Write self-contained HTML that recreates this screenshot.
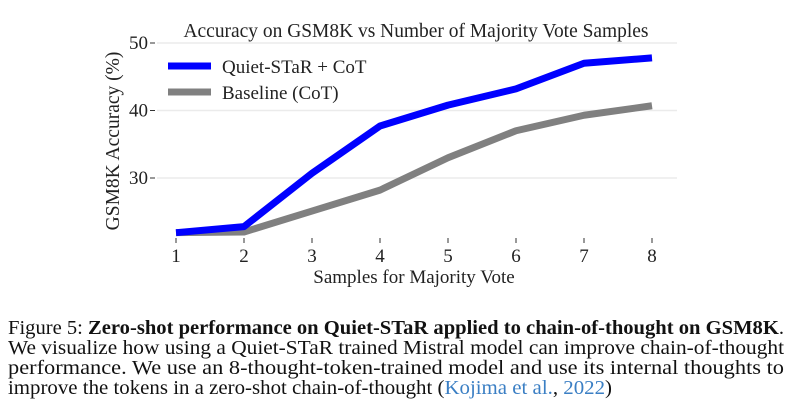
<!DOCTYPE html>
<html><head><meta charset="utf-8"><style>
html,body{margin:0;padding:0;background:#fff;}
svg{display:block;font-family:"Liberation Serif",serif;}
</style></head><body>
<svg id="chart" width="793" height="404" viewBox="0 0 793 404">
<text x="416" y="37" text-anchor="middle" font-size="19.5" fill="#222" textLength="465" lengthAdjust="spacingAndGlyphs">Accuracy on GSM8K vs Number of Majority Vote Samples</text>
<g id="grid"></g><g id="axes"></g><g id="series"></g>
<text transform="translate(119,141) rotate(-90)" text-anchor="middle" font-size="19.5" fill="#222">GSM8K Accuracy (%)</text>
<text x="414" y="283" text-anchor="middle" font-size="19" fill="#222">Samples for Majority Vote</text>
<g>
<line x1="168" y1="66" x2="211" y2="66" stroke="#0000ff" stroke-width="7"/>
<text x="222" y="73" font-size="19" fill="#222">Quiet-STaR + CoT</text>
<line x1="168" y1="92" x2="211" y2="92" stroke="#808080" stroke-width="7"/>
<text x="222" y="99" font-size="19" fill="#222">Baseline (CoT)</text>
</g>
<g font-size="20" fill="#111">
<text x="8" y="334" textLength="776" lengthAdjust="spacingAndGlyphs">Figure 5: <tspan font-weight="bold">Zero-shot performance on Quiet-STaR applied to chain-of-thought on GSM8K</tspan>.</text>
<text x="8" y="354" textLength="776" lengthAdjust="spacingAndGlyphs">We visualize how using a Quiet-STaR trained Mistral model can improve chain-of-thought</text>
<text x="8" y="374" textLength="776" lengthAdjust="spacingAndGlyphs">performance.  We use an 8-thought-token-trained model and use its internal thoughts to</text>
<text x="8" y="394" textLength="604" lengthAdjust="spacingAndGlyphs">improve the tokens in a zero-shot chain-of-thought (<tspan fill="#3b7fc4">Kojima et al.</tspan>, <tspan fill="#3b7fc4">2022</tspan>)</text>
</g>
</svg>
<script>
const samples=[1,2,3,4,5,6,7,8];
const quietStar=[21.9,22.8,30.7,37.7,40.8,43.2,47.0,47.8];
const baseline=[21.9,22.0,25.1,28.2,33.0,37.0,39.3,40.7];
const yTicks=[30,40,50];
const NS="http://www.w3.org/2000/svg";
const xs=v=>176+(v-1)*(652-176)/7;
const ys=v=>43+(50-v)*6.75;
function mk(tag,attrs,parent){const e=document.createElementNS(NS,tag);for(const k in attrs)e.setAttribute(k,attrs[k]);parent.appendChild(e);return e;}
const grid=document.getElementById('grid'),axes=document.getElementById('axes'),ser=document.getElementById('series');
yTicks.forEach(t=>{
 const g=mk('line',{x1:157,x2:677,y1:ys(t),y2:ys(t),stroke:'#ebebeb','stroke-width':1.5},grid);
 
 
 const tk=mk('line',{x1:150,x2:155,y1:ys(t),y2:ys(t),stroke:'#333'},axes);
 
 
 const tx=mk('text',{x:148,y:ys(t)+6,'text-anchor':'end','font-size':19,fill:'#222'},axes);
 tx.textContent=t;
 
 
});
samples.forEach(s=>{
 const tk=mk('line',{x1:xs(s),x2:xs(s),y1:238,y2:243,stroke:'#333'},axes);
 
 
 const tx=mk('text',{x:xs(s),y:262,'text-anchor':'middle','font-size':19,fill:'#222'},axes);
 tx.textContent=s;
 
 
});
function line(vals,color,name){
 const p=mk('polyline',{points:vals.map((v,i)=>xs(samples[i])+','+ys(v)).join(' '),fill:'none',stroke:color,'stroke-width':7,'stroke-linejoin':'round'},ser);
 
 
}
line(baseline,'#808080','baseline-line');
line(quietStar,'#0000ff','quiet-star-line');
</script>
</body></html>
